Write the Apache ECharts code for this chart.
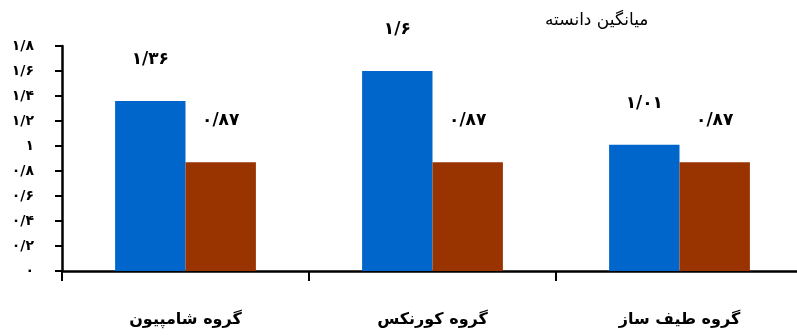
<!DOCTYPE html>
<html>
<head>
<meta charset="utf-8">
<script src="https://cdn.jsdelivr.net/npm/echarts@6/dist/echarts.min.js"></script>
<style>
  html, body { margin: 0; padding: 0; background: #fff; }
  #chart { width: 797px; height: 336px; }
</style>
</head>
<body>
<div id="chart"></div>
<script>
// Groups and mean scores
const categories = ['گروه شامپیون', 'گروه کورنکس', 'گروه طیف ساز'];
const seriesA = [1.36, 1.6, 1.01];
const seriesB = [0.87, 0.87, 0.87];
const titleText = 'میانگین دانسته';
const yMin = 0, yMax = 1.8, yStep = 0.2;

const FONT = '"DejaVu Sans", sans-serif';

// Persian digits with "/" as the decimal separator
function toPersian(v) {
  const s = String(+v.toFixed(2));
  const digits = '۰۱۲۳۴۵۶۷۸۹';
  return s.replace(/[0-9]/g, d => digits[+d]).replace('.', '/');
}

const chart = echarts.init(document.getElementById('chart'), null, { renderer: 'canvas' });

const labelStyle = {
  show: true,
  position: 'top',
  distance: 33,
  fontFamily: FONT,
  fontWeight: 'bold',
  fontSize: 17,
  color: '#000',
  formatter: p => toPersian(p.value)
};

chart.setOption({
  animation: false,
  title: {
    text: titleText,
    left: 540,
    top: 7,
    textStyle: { fontFamily: FONT, fontWeight: 'normal', fontSize: 17, color: '#000' }
  },
  grid: { left: 62, top: 46, width: 741, height: 225, containLabel: false, outerBoundsMode: 'none' },
  xAxis: {
    type: 'category',
    data: categories,
    axisLine: { lineStyle: { color: '#000', width: 2.5 } },
    axisTick: { show: true, alignWithLabel: false, length: 10, lineStyle: { color: '#000', width: 2 } },
    axisLabel: {
      margin: 41,
      fontFamily: FONT,
      fontWeight: 'bold',
      fontSize: 16,
      color: '#000'
    },
    splitLine: { show: false }
  },
  yAxis: {
    type: 'value',
    min: yMin,
    max: yMax,
    interval: yStep,
    axisLine: { show: true, lineStyle: { color: '#000', width: 2.5 } },
    axisTick: { show: true, length: 7, lineStyle: { color: '#000', width: 2 } },
    axisLabel: {
      margin: 28,
      fontFamily: FONT,
      fontWeight: 'bold',
      fontSize: 14,
      color: '#000',
      formatter: v => toPersian(v)
    },
    splitLine: { show: false }
  },
  series: [
    {
      type: 'bar',
      data: seriesA,
      itemStyle: { color: '#0066CC' },
      barGap: '0%',
      barCategoryGap: '43%',
      label: labelStyle
    },
    {
      type: 'bar',
      data: seriesB,
      itemStyle: { color: '#993300' },
      label: labelStyle
    }
  ]
});
</script>
</body>
</html>
